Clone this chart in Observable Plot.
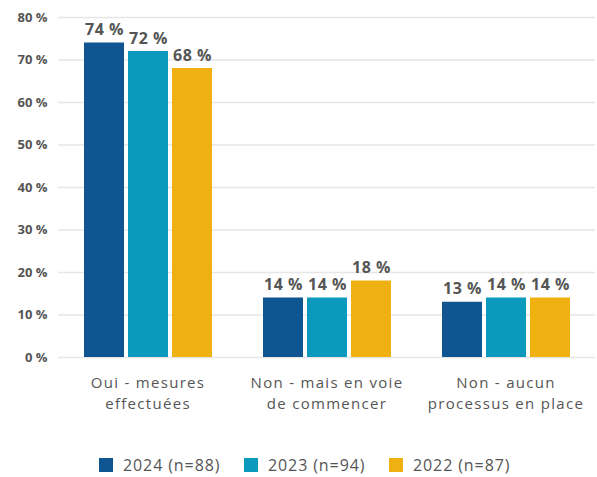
<!DOCTYPE html>
<html><head><meta charset="utf-8">
<script src="https://cdn.jsdelivr.net/npm/d3@7"></script>
<script src="https://cdn.jsdelivr.net/npm/@observablehq/plot@0.6"></script>
<style>
body{margin:0;background:#fff;font-family:"Open Sans",sans-serif}
#legend{margin-top:35px;padding-left:99px;display:flex;height:20px;align-items:center}
.item{width:145px;display:flex;align-items:center;font-size:16px;letter-spacing:0.9px;color:#555}
.sw{width:14px;height:14px;margin-right:10px;flex:none}
</style>
</head><body><div id="chart"></div><div id="legend"></div>
<script>
const categories = ["Oui - mesures\neffectuées", "Non - mais en voie\nde commencer", "Non - aucun\nprocessus en place"];
const series = ["2024 (n=88)", "2023 (n=94)", "2022 (n=87)"];
const values2024 = [74, 14, 13];
const values2023 = [72, 14, 14];
const values2022 = [68, 18, 14];
const colors = ["#0f5591", "#0b9abb", "#efb112"];
const yTicks = [0, 10, 20, 30, 40, 50, 60, 70, 80];

const seriesValues = [values2024, values2023, values2022];
const rows = [];
categories.forEach((c, i) => series.forEach((s, j) => rows.push({cat: c, year: s, value: seriesValues[j][i]})));

const chart = Plot.plot({
  width: 597,
  height: 420,
  marginLeft: 58,
  marginRight: 2,
  marginTop: 17,
  marginBottom: 63,
  style: {fontFamily: "'Open Sans', sans-serif", fontSize: "13px", fontWeight: 700, color: "#555", background: "#fff"},
  facet: {data: rows, x: "cat"},
  fx: {domain: categories, padding: 0, axis: null},
  x: {domain: series, paddingInner: 0.1, paddingOuter: 0.56, axis: null},
  y: {domain: [0, 80], ticks: yTicks, tickFormat: d => d + " %", tickSize: 0, tickPadding: 11, label: null},
  color: {domain: series, range: colors},
  marks: [
    Plot.ruleY(yTicks, {facet: null, stroke: "#e6e6e6", strokeWidth: 1.5}),
    Plot.barY(rows, {x: "year", y: "value", fill: "year"}),
    Plot.text(rows, {x: "year", y: "value", text: d => d.value + " %", lineAnchor: "bottom", dy: -8, fontSize: 16, fontWeight: 700, fill: "#555"}),
    Plot.text(rows, Plot.selectFirst({frameAnchor: "bottom", text: "cat", lineAnchor: "top", dy: 16, fontSize: 15, fontWeight: 400, fill: "#555", lineHeight: 1.37}))
  ]
});
chart.querySelectorAll("text").forEach(t => {
  const fw = t.getAttribute("font-weight") || (t.parentNode && t.parentNode.getAttribute && t.parentNode.getAttribute("font-weight"));
  if (fw === "400") t.style.letterSpacing = "1.3px";
  else if (fw === "700" && t.closest("g") && t.closest("g").getAttribute("font-size") === "16") t.style.letterSpacing = "0.5px";
});
document.getElementById("chart").appendChild(chart);

const legend = document.getElementById("legend");
series.forEach((s, j) => {
  const it = document.createElement("div");
  it.className = "item";
  it.innerHTML = `<span class="sw" style="background:${colors[j]}"></span><span>${s}</span>`;
  legend.appendChild(it);
});
</script>
</body></html>
